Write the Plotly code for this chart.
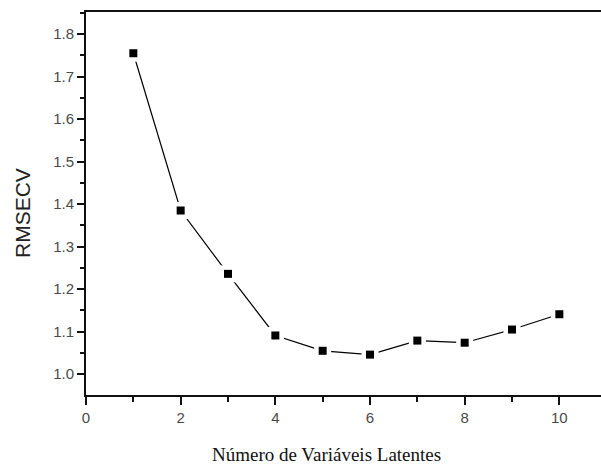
import plotly.graph_objects as go

# Number of latent variables and the cross-validation error for each
n_latent = [1, 2, 3, 4, 5, 6, 7, 8, 9, 10]
rmsecv = [1.755, 1.385, 1.236, 1.091, 1.055, 1.046, 1.079, 1.074, 1.105, 1.141]

x_ticks = [0, 2, 4, 6, 8, 10]
y_ticks = [1.0, 1.1, 1.2, 1.3, 1.4, 1.5, 1.6, 1.7, 1.8]

x_title = "Número de Variáveis Latentes"
y_title = "RMSECV"

fig = go.Figure()

# connecting line
fig.add_trace(go.Scatter(
    x=n_latent, y=rmsecv, mode="lines",
    line=dict(color="black", width=1.2),
    hoverinfo="skip", showlegend=False,
))
# white halo so the line stops short of each marker
fig.add_trace(go.Scatter(
    x=n_latent, y=rmsecv, mode="markers",
    marker=dict(symbol="square", size=17, color="white", line=dict(width=0)),
    hoverinfo="skip", showlegend=False,
))
# square markers
fig.add_trace(go.Scatter(
    x=n_latent, y=rmsecv, mode="markers",
    marker=dict(symbol="square", size=8, color="black", line=dict(width=0)),
    showlegend=False,
))

tick_font = dict(family="Liberation Sans, Arial, sans-serif", size=15, color="#4a4a4a")

fig.update_layout(
    width=601, height=468,
    margin=dict(l=86, r=0, t=12, b=73),
    paper_bgcolor="white", plot_bgcolor="white",
    xaxis=dict(
        range=[0, 10.88],
        tickvals=x_ticks, ticktext=[str(v) for v in x_ticks],
        ticks="outside", ticklen=8, tickwidth=1.5, tickcolor="#111",
        minor=dict(dtick=1, tick0=0, ticks="outside", ticklen=5, tickwidth=1.5, tickcolor="#111"),
        showline=True, linecolor="#111", linewidth=1.8, mirror=True,
        showgrid=False, zeroline=False,
        tickfont=tick_font,
    ),
    yaxis=dict(
        range=[0.951, 1.852],
        tickvals=y_ticks, ticktext=[f"{v:.1f}" for v in y_ticks],
        ticks="outside", ticklen=7, tickwidth=1.5, tickcolor="#111",
        minor=dict(dtick=0.05, tick0=0, ticks="outside", ticklen=4, tickwidth=1.5, tickcolor="#111"),
        showline=True, linecolor="#111", linewidth=1.8, mirror=False,
        showgrid=False, zeroline=False,
        tickfont=tick_font,
    ),
    annotations=[
        dict(
            text=x_title, xref="paper", yref="paper",
            x=(326 - 86) / (601 - 86), y=-(454 - 395) / (468 - 12 - 73),
            xanchor="center", yanchor="middle", showarrow=False,
            font=dict(family="Liberation Serif, Times New Roman, serif", size=19, color="#111"),
        ),
        dict(
            text=y_title, xref="paper", yref="paper",
            x=-(86 - 22) / (601 - 86), y=(395 - 213) / (468 - 12 - 73),
            xanchor="center", yanchor="middle", textangle=-90, showarrow=False,
            font=dict(family="Liberation Sans, Arial, sans-serif", size=21, color="#222"),
        ),
    ],
)

fig.write_html("out.html", config=dict(displayModeBar=False))
